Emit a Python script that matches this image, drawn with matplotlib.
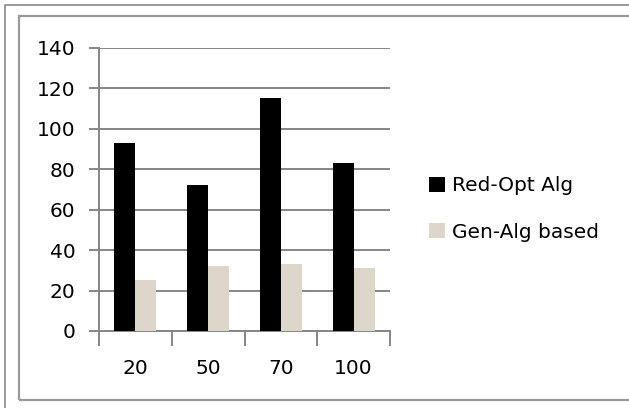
import numpy as np
import matplotlib
matplotlib.use("Agg")
from matplotlib import pyplot as plt
from matplotlib.patches import Rectangle

# Data
categories = ["20", "50", "70", "100"]
red_opt = [93, 72, 115, 83]
gen_alg = [25, 32, 33, 31]
series_names = ["Red-Opt Alg", "Gen-Alg based"]

plt.rcParams['font.family'] = ['DejaVu Sans']
fs = 14.5

fig = plt.figure(figsize=(6.29, 4.08), dpi=100)
W, H = 629, 408

# Outer and inner frames
fig.add_artist(Rectangle((5 / W, -0.05), 1.1, (H - 5) / H + 0.05, transform=fig.transFigure,
                         fill=False, edgecolor="#7f7f7f", lw=1.1))
fig.add_artist(Rectangle((19 / W, (H - 400) / H), 1.1, (400 - 16) / H, transform=fig.transFigure,
                         fill=False, edgecolor="#9a9a9a", lw=1.6))

ax = fig.add_axes([99 / W, (H - 331) / H, (390 - 99) / W, (331 - 47.7) / H])

x = np.arange(len(categories))
w = 0.29
ax.bar(x - w / 2, red_opt, w, color="black", label=series_names[0], zorder=3)
ax.bar(x + w / 2, gen_alg, w, color="#ddd6ca", label=series_names[1], zorder=3)

ax.set_xlim(-0.5, len(categories) - 0.5)
ax.set_ylim(0, 140)
ax.set_yticks(np.arange(0, 141, 20))
ax.yaxis.grid(True, color="#868686", lw=1.4, zorder=0)
ax.set_axisbelow(True)

for s in ["top", "right"]:
    ax.spines[s].set_visible(False)
for s in ["left", "bottom"]:
    ax.spines[s].set_color("#868686")
    ax.spines[s].set_linewidth(1.4)

ax.set_xticks(x)
ax.set_xticklabels(categories)
ax.set_xticks(np.arange(-0.5, len(categories)), minor=True)
ax.tick_params(axis="x", which="major", length=0, pad=20, labelsize=fs)
ax.tick_params(axis="x", which="minor", length=11, width=1.4, color="#868686", direction="out")
ax.tick_params(axis="y", length=7, width=1.4, color="#868686", pad=10, labelsize=fs)

fig.legend(loc="center left", bbox_to_anchor=(411 / W, 1 - 209 / H), frameon=False,
           fontsize=fs, handlelength=0.8, handleheight=0.8, handletextpad=0.35,
           labelspacing=1.35)

fig.savefig("out.png", dpi=100)
